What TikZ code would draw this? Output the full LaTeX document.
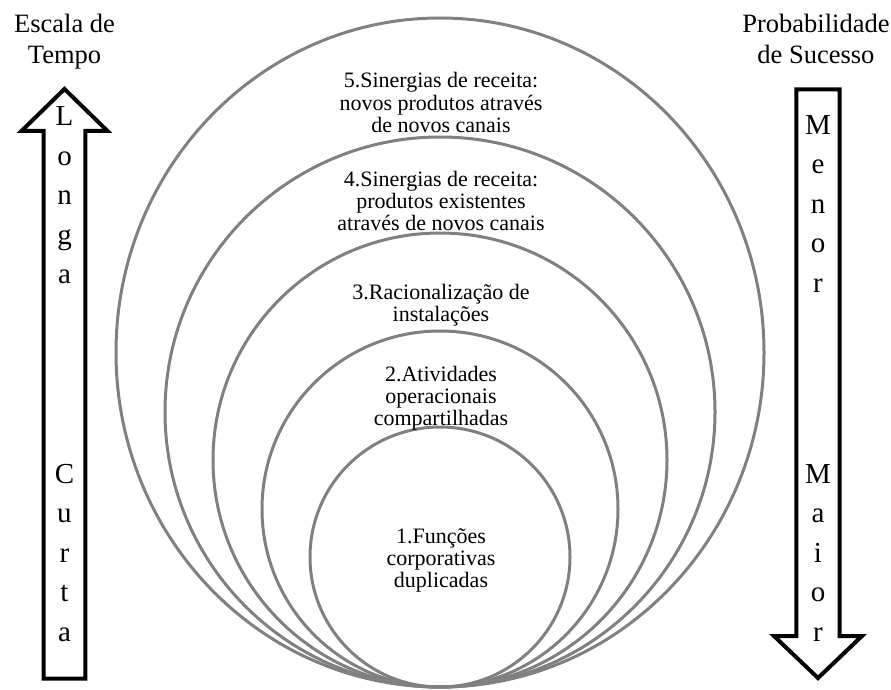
\documentclass[tikz,border=0pt]{standalone}
\usepackage{fontspec}
\usetikzlibrary{shapes.geometric}
\setmainfont{Liberation Serif}
\definecolor{ringgray}{RGB}{128,128,128}
\begin{document}
\begin{tikzpicture}[x=1pt,y=-1pt,
  ring/.style={circle, draw=ringgray, line width=3pt, inner sep=0pt},
  outerring/.style={ellipse, draw=ringgray, line width=3pt, inner sep=0pt},
  ringtext/.style={align=center, anchor=base, inner sep=0pt,
    font=\fontsize{22}{22}\selectfont},
  arrowletters/.style={align=center, anchor=base, inner sep=0pt,
    font=\fontsize{29}{39.5}\selectfont},
  headtext/.style={align=center, anchor=base, inner sep=0pt,
    font=\fontsize{26.5}{31}\selectfont},
  bigarrow/.style={draw=black, line width=4pt, line join=miter}
]
\useasboundingbox (0,0) rectangle (891,690);

% nested rings, all touching at the bottom point (440,687)
\node[outerring, minimum width=648pt, minimum height=669pt] (c5) at (440,352.5) {};
\node[ring, minimum size=550pt] (c4) at (440,412) {};
\node[ring, minimum size=454pt] (c3) at (440,460) {};
\node[ring, minimum size=356pt] (c2) at (440,509) {};
\node[ring, minimum size=260pt] (c1) at (440,557) {};

% ring captions (positioned by the baseline of their last line)
\node[ringtext] (t5) at (441,132) {5.Sinergias de receita:\\novos produtos através\\de novos canais};
\node[ringtext] (t4) at (441,230) {4.Sinergias de receita:\\produtos existentes\\através de novos canais};
\node[ringtext] (t3) at (441,321) {3.Racionalização de\\instalações};
\node[ringtext] (t2) at (441,425) {2.Atividades\\operacionais\\compartilhadas};
\node[ringtext] (t1) at (441,587) {1.Funções\\corporativas\\duplicadas};

% time scale arrow (pointing up)
\draw[bigarrow] (64.5,89) -- (107.5,131) -- (85.3,131) -- (85.3,678.7)
  -- (43.7,678.7) -- (43.7,131) -- (21.5,131) -- cycle;
% probability arrow (pointing down)
\draw[bigarrow] (796.3,89.5) -- (839.7,89.5) -- (839.7,636) -- (862,636)
  -- (818,678) -- (774,636) -- (796.3,636) -- cycle;

% vertical words inside the arrows
\node[arrowletters] (longa) at (64.5,283.5) {L\\o\\n\\g\\a};
\node[arrowletters] (curta) at (64.5,641) {C\\u\\r\\t\\a};
\node[arrowletters] (menor) at (818,292) {M\\e\\n\\o\\r};
\node[arrowletters] (maior) at (818,641) {M\\a\\i\\o\\r};

% headings above the arrows
\node[headtext] (escala) at (64.5,63.3) {Escala de\\Tempo};
\node[headtext] (prob) at (816,63.3) {Probabilidade\\de Sucesso};
\end{tikzpicture}
\end{document}
